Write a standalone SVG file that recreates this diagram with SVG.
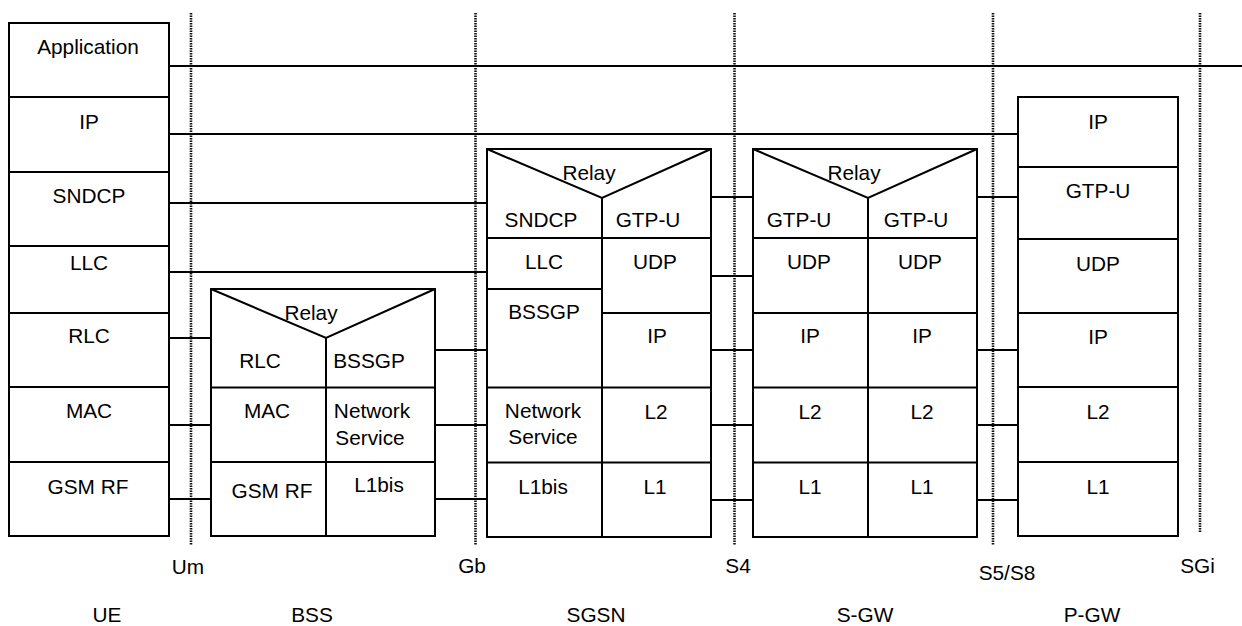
<svg xmlns="http://www.w3.org/2000/svg" width="1242" height="626" viewBox="0 0 1242 626">
<style>
.box{fill:#fff;stroke:#000;stroke-width:2}
.ln{stroke:#000;stroke-width:2;fill:none}
.cn{stroke:#000;stroke-width:1.8;fill:none}
.dot{stroke:#111;stroke-width:2.6;stroke-dasharray:1.5 1;fill:none}
text{font-family:"Liberation Sans",Arial,sans-serif;font-size:20.8px;fill:#000;text-anchor:middle}
</style>
<rect width="1242" height="626" fill="#fff"/>
<g id="interfaces">
<line class="dot" x1="191" y1="13" x2="191" y2="545"/>
<line class="dot" x1="475.5" y1="13" x2="475.5" y2="545"/>
<line class="dot" x1="734.5" y1="13" x2="734.5" y2="545"/>
<line class="dot" x1="993" y1="13" x2="993" y2="545"/>
<line class="dot" x1="1200" y1="13" x2="1200" y2="533"/>
<text x="188" y="574">Um</text>
<text x="472" y="573">Gb</text>
<text x="738" y="573">S4</text>
<text x="1007" y="580">S5/S8</text>
<text x="1197.5" y="573">SGi</text>
</g>
<g id="connectors">
<line class="cn" x1="169" y1="66" x2="1242" y2="66"/>
<line class="cn" x1="169" y1="134" x2="1018" y2="134"/>
<line class="cn" x1="169" y1="203" x2="487" y2="203"/>
<line class="cn" x1="169" y1="272" x2="487" y2="272"/>
<line class="cn" x1="169" y1="338" x2="211" y2="338"/>
<line class="cn" x1="169" y1="425" x2="211" y2="425"/>
<line class="cn" x1="169" y1="499" x2="211" y2="499"/>
<line class="cn" x1="435" y1="350" x2="487" y2="350"/>
<line class="cn" x1="435" y1="425" x2="487" y2="425"/>
<line class="cn" x1="435" y1="499" x2="487" y2="499"/>
<line class="cn" x1="711" y1="197" x2="753" y2="197"/>
<line class="cn" x1="711" y1="276" x2="753" y2="276"/>
<line class="cn" x1="711" y1="350" x2="753" y2="350"/>
<line class="cn" x1="711" y1="425" x2="753" y2="425"/>
<line class="cn" x1="711" y1="500" x2="753" y2="500"/>
<line class="cn" x1="977" y1="197" x2="1018" y2="197"/>
<line class="cn" x1="977" y1="350" x2="1018" y2="350"/>
<line class="cn" x1="977" y1="425" x2="1018" y2="425"/>
<line class="cn" x1="977" y1="500" x2="1018" y2="500"/>
</g>
<g id="UE">
<rect class="box" x="9" y="23" width="160" height="513"/>
<path class="ln" d="M9 97H169M9 172H169M9 246H169M9 313H169M9 387H169M9 462H169"/>
<text x="88" y="54">Application</text>
<text x="89" y="129">IP</text>
<text x="89" y="203">SNDCP</text>
<text x="89" y="270">LLC</text>
<text x="89" y="343">RLC</text>
<text x="89" y="418">MAC</text>
<text x="88" y="494">GSM RF</text>
<text x="107" y="622">UE</text>
</g>
<g id="BSS">
<rect class="box" x="211" y="289" width="224" height="247"/>
<path class="ln" d="M211 289L326 338L435 289M326 338V536M211 387.5H435M211 462H435"/>
<text x="311" y="320">Relay</text>
<text x="260" y="368">RLC</text>
<text x="369" y="368">BSSGP</text>
<text x="267" y="418">MAC</text>
<text x="372" y="418">Network</text>
<text x="370" y="445">Service</text>
<text x="272" y="498">GSM RF</text>
<text x="379" y="492">L1bis</text>
<text x="312" y="622">BSS</text>
</g>
<g id="SGSN">
<rect class="box" x="487" y="149" width="224" height="388"/>
<path class="ln" d="M487 149L602 198L711 149M602 198V537M487 238H711M487 289H602M602 313H711M487 387.5H711M487 462.5H711"/>
<text x="589" y="180">Relay</text>
<text x="541" y="227">SNDCP</text>
<text x="648" y="227">GTP-U</text>
<text x="544" y="269">LLC</text>
<text x="655" y="269">UDP</text>
<text x="544" y="319">BSSGP</text>
<text x="657" y="343">IP</text>
<text x="543" y="418">Network</text>
<text x="543" y="444">Service</text>
<text x="656" y="419">L2</text>
<text x="543" y="494">L1bis</text>
<text x="655" y="494">L1</text>
<text x="596" y="622">SGSN</text>
</g>
<g id="S-GW">
<rect class="box" x="753" y="149" width="224" height="388"/>
<path class="ln" d="M753 149L868 198L977 149M868 198V537M753 238H977M753 313H977M753 387.5H977M753 462.5H977"/>
<text x="854" y="180">Relay</text>
<text x="799" y="227">GTP-U</text>
<text x="916" y="227">GTP-U</text>
<text x="809" y="269">UDP</text>
<text x="920" y="269">UDP</text>
<text x="810" y="343">IP</text>
<text x="922" y="343">IP</text>
<text x="810" y="419">L2</text>
<text x="922" y="419">L2</text>
<text x="810" y="494">L1</text>
<text x="922" y="494">L1</text>
<text x="865" y="622">S-GW</text>
</g>
<g id="P-GW">
<rect class="box" x="1018" y="97" width="160" height="439"/>
<path class="ln" d="M1018 167H1178M1018 239H1178M1018 313H1178M1018 387H1178M1018 462H1178"/>
<text x="1098" y="129">IP</text>
<text x="1098" y="198">GTP-U</text>
<text x="1098" y="271">UDP</text>
<text x="1098" y="344">IP</text>
<text x="1098" y="419">L2</text>
<text x="1098" y="494">L1</text>
<text x="1092" y="622">P-GW</text>
</g>
</svg>
